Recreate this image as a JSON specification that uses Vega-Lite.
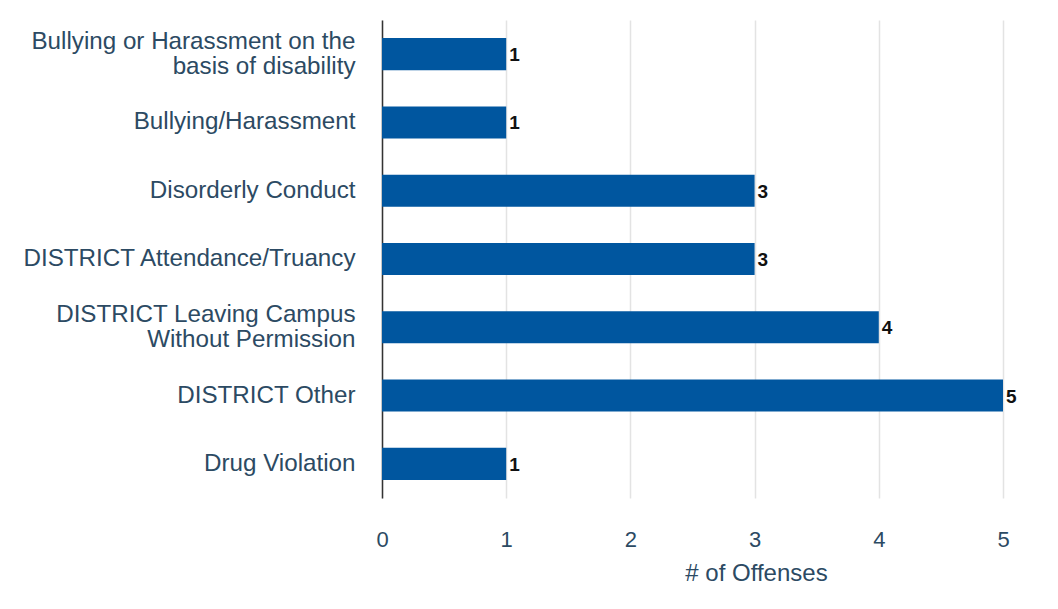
{
  "$schema": "https://vega.github.io/schema/vega-lite/v6.json",
  "width": 621,
  "height": 478,
  "autosize": {"type": "none"},
  "padding": {"left": 382, "top": 20, "right": 55, "bottom": 111},
  "background": "white",
  "config": {
    "view": {"stroke": null},
    "font": "Liberation Sans"
  },
  "data": {
    "values": [
      {"offense": "Bullying or Harassment on the basis of disability", "count": 1},
      {"offense": "Bullying/Harassment", "count": 1},
      {"offense": "Disorderly Conduct", "count": 3},
      {"offense": "DISTRICT Attendance/Truancy", "count": 3},
      {"offense": "DISTRICT Leaving Campus Without Permission", "count": 4},
      {"offense": "DISTRICT Other", "count": 5},
      {"offense": "Drug Violation", "count": 1}
    ]
  },
  "encoding": {
    "y": {
      "field": "offense",
      "type": "nominal",
      "sort": null,
      "scale": {"paddingInner": 0.53, "paddingOuter": 0.265},
      "axis": {
        "title": null,
        "ticks": false,
        "domainColor": "#333333",
        "domainWidth": 1.5,
        "labelFont": "Liberation Sans",
        "labelFontSize": 24.2,
        "labelColor": "#2c4a63",
        "labelPadding": 27,
        "labelLimit": 400,
        "labelLineHeight": 25,
        "labelOffset": {"condition": {"test": "indexof(datum.label, 'Bullying or Harassment on') == 0 || indexof(datum.label, 'DISTRICT Leaving') == 0", "value": -12.5}, "value": 0},
        "labelExpr": "datum.label == 'Bullying or Harassment on the basis of disability' ? ['Bullying or Harassment on the', 'basis of disability'] : datum.label == 'DISTRICT Leaving Campus Without Permission' ? ['DISTRICT Leaving Campus', 'Without Permission'] : datum.label"
      }
    },
    "x": {
      "field": "count",
      "type": "quantitative",
      "scale": {"domain": [0, 5], "nice": false},
      "axis": {
        "title": "# of Offenses",
        "values": [0, 1, 2, 3, 4, 5],
        "ticks": false,
        "domain": false,
        "grid": true,
        "gridColor": "#e3e3e3",
        "gridWidth": 1.5,
        "labelFlush": false,
        "labelFont": "Liberation Sans",
        "labelFontSize": 22,
        "labelColor": "#2c4a63",
        "labelPadding": 31,
        "titleFont": "Liberation Sans",
        "titleFontSize": 24,
        "titleFontWeight": "normal",
        "titleColor": "#2c4a63",
        "titleX": 374,
        "titleY": 82,
        "titleAlign": "center",
        "titleBaseline": "alphabetic"
      }
    }
  },
  "layer": [
    {"mark": {"type": "bar", "color": "#00569f"}},
    {
      "mark": {"type": "text", "align": "left", "baseline": "middle", "dx": 3, "dy": 1, "fontSize": 19, "fontWeight": "bold", "color": "#111111", "font": "Liberation Sans"},
      "encoding": {"text": {"field": "count", "type": "quantitative"}}
    }
  ]
}
